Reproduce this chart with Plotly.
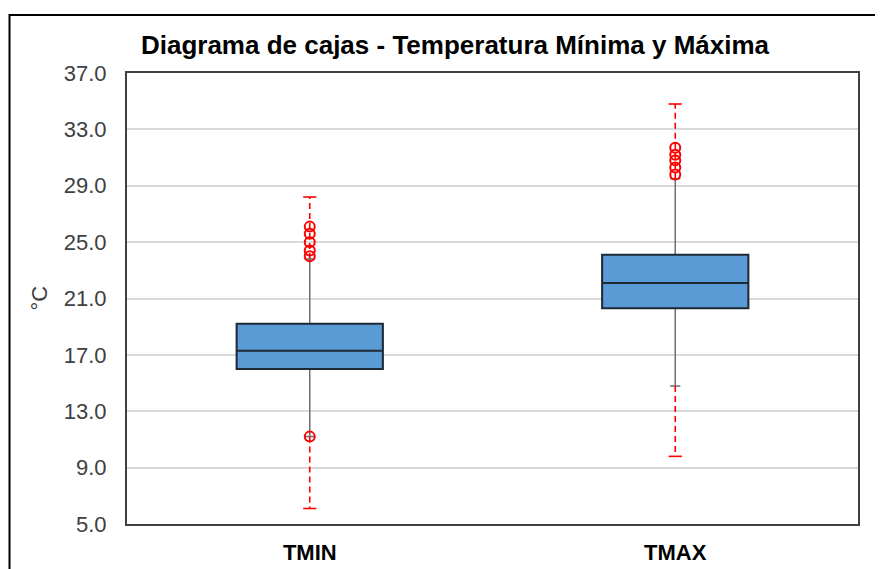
import plotly.graph_objects as go

# ---- data ----
categories = ["TMIN", "TMAX"]
q1 = [16.0, 20.3]
median = [17.3, 22.1]
q3 = [19.2, 24.1]
whisker_low = [11.2, 14.8]
whisker_high = [23.8, 29.5]
minimum = [6.1, 9.8]
maximum = [28.2, 34.8]
outliers = {
    "TMIN": [26.1, 25.6, 25.0, 24.4, 24.0, 11.2],
    "TMAX": [31.7, 31.2, 30.8, 30.3, 29.8],
}
y_ticks = [5, 9, 13, 17, 21, 25, 29, 33, 37]

FONT = "Liberation Sans, Arial, sans-serif"
RED = "#FF0000"
xpos = list(range(len(categories)))

# page body has an 8px margin -> figure drawn 8px smaller and shifted
W, H = 875, 561
OFF = 8

fig = go.Figure()

for i, c in enumerate(categories):
    fig.add_trace(go.Scatter(
        x=[xpos[i], xpos[i], None, xpos[i], xpos[i]],
        y=[whisker_high[i], maximum[i], None, whisker_low[i], minimum[i]],
        mode="lines", line=dict(color=RED, width=1.6, dash="6px,4px"),
        showlegend=False, hoverinfo="skip"))
    fig.add_trace(go.Scatter(
        x=[xpos[i] - 0.018, xpos[i] + 0.018, None, xpos[i] - 0.018, xpos[i] + 0.018],
        y=[maximum[i], maximum[i], None, minimum[i], minimum[i]],
        mode="lines", line=dict(color=RED, width=1.6),
        showlegend=False, hoverinfo="skip"))

fig.add_trace(go.Box(
    x=xpos, q1=q1, median=median, q3=q3,
    lowerfence=whisker_low, upperfence=whisker_high,
    width=0.4, whiskerwidth=0.07,
    fillcolor="#5B9BD5", line=dict(color="#6E6E6E", width=1.5),
    boxpoints=False, showlegend=False, hoverinfo="skip"))
fig.add_trace(go.Box(
    x=xpos, q1=q1, median=median, q3=q3,
    lowerfence=q1, upperfence=q3,
    width=0.4, whiskerwidth=0,
    fillcolor="#5B9BD5", line=dict(color="#1E2A36", width=2),
    boxpoints=False, showlegend=False))

for i, c in enumerate(categories):
    fig.add_trace(go.Scatter(
        x=[xpos[i]] * len(outliers[c]), y=outliers[c], mode="markers",
        marker=dict(symbol="circle-open", size=10, color=RED, line=dict(width=2, color=RED)),
        showlegend=False))

fig.update_layout(
    width=W, height=H,
    margin=dict(l=127 - OFF, r=25, t=73 - OFF, b=45, autoexpand=False),
    paper_bgcolor="white", plot_bgcolor="white",
    boxmode="overlay",
    font=dict(family=FONT, color="#404040"),
    title=dict(text="<b>Diagrama de cajas - Temperatura Mínima y Máxima</b>",
               font=dict(family=FONT, size=26, color="#000000"),
               x=(455 - OFF) / W, xanchor="center", xref="container",
               y=1 - (45 - OFF) / H, yanchor="middle", yref="container"),
    xaxis=dict(range=[-0.5, 1.5], tickvals=xpos,
               ticktext=["<b>%s</b>" % c for c in categories],
               tickfont=dict(family=FONT, size=22, color="#000000"),
               showgrid=False, zeroline=False, automargin=False,
               showline=True, linecolor="#404040", linewidth=2, mirror=True,
               ticks="", ticklabelstandoff=8),
    yaxis=dict(range=[5, 37], tickvals=y_ticks,
               ticktext=["%.1f" % v for v in y_ticks],
               tickfont=dict(family=FONT, size=22, color="#404040"),
               showgrid=True, gridcolor="#D9D9D9", gridwidth=1.5,
               zeroline=False, automargin=False,
               showline=True, linecolor="#404040", linewidth=2, mirror=True,
               ticks="", ticklabelstandoff=14),
    annotations=[dict(text="°C", x=(39 - 127) / 731, y=0.5, xref="paper", yref="paper",
                      xanchor="center", yanchor="middle",
                      textangle=-90, showarrow=False,
                      font=dict(family=FONT, size=22, color="#404040"))],
    shapes=[dict(type="rect", xref="paper", yref="paper",
                 x0=(9.5 - 127) / 731, x1=1.2, y0=-0.3, y1=(524 - 15) / 451,
                 line=dict(color="#000000", width=2), layer="above")],
)

fig.write_html("out.html")
